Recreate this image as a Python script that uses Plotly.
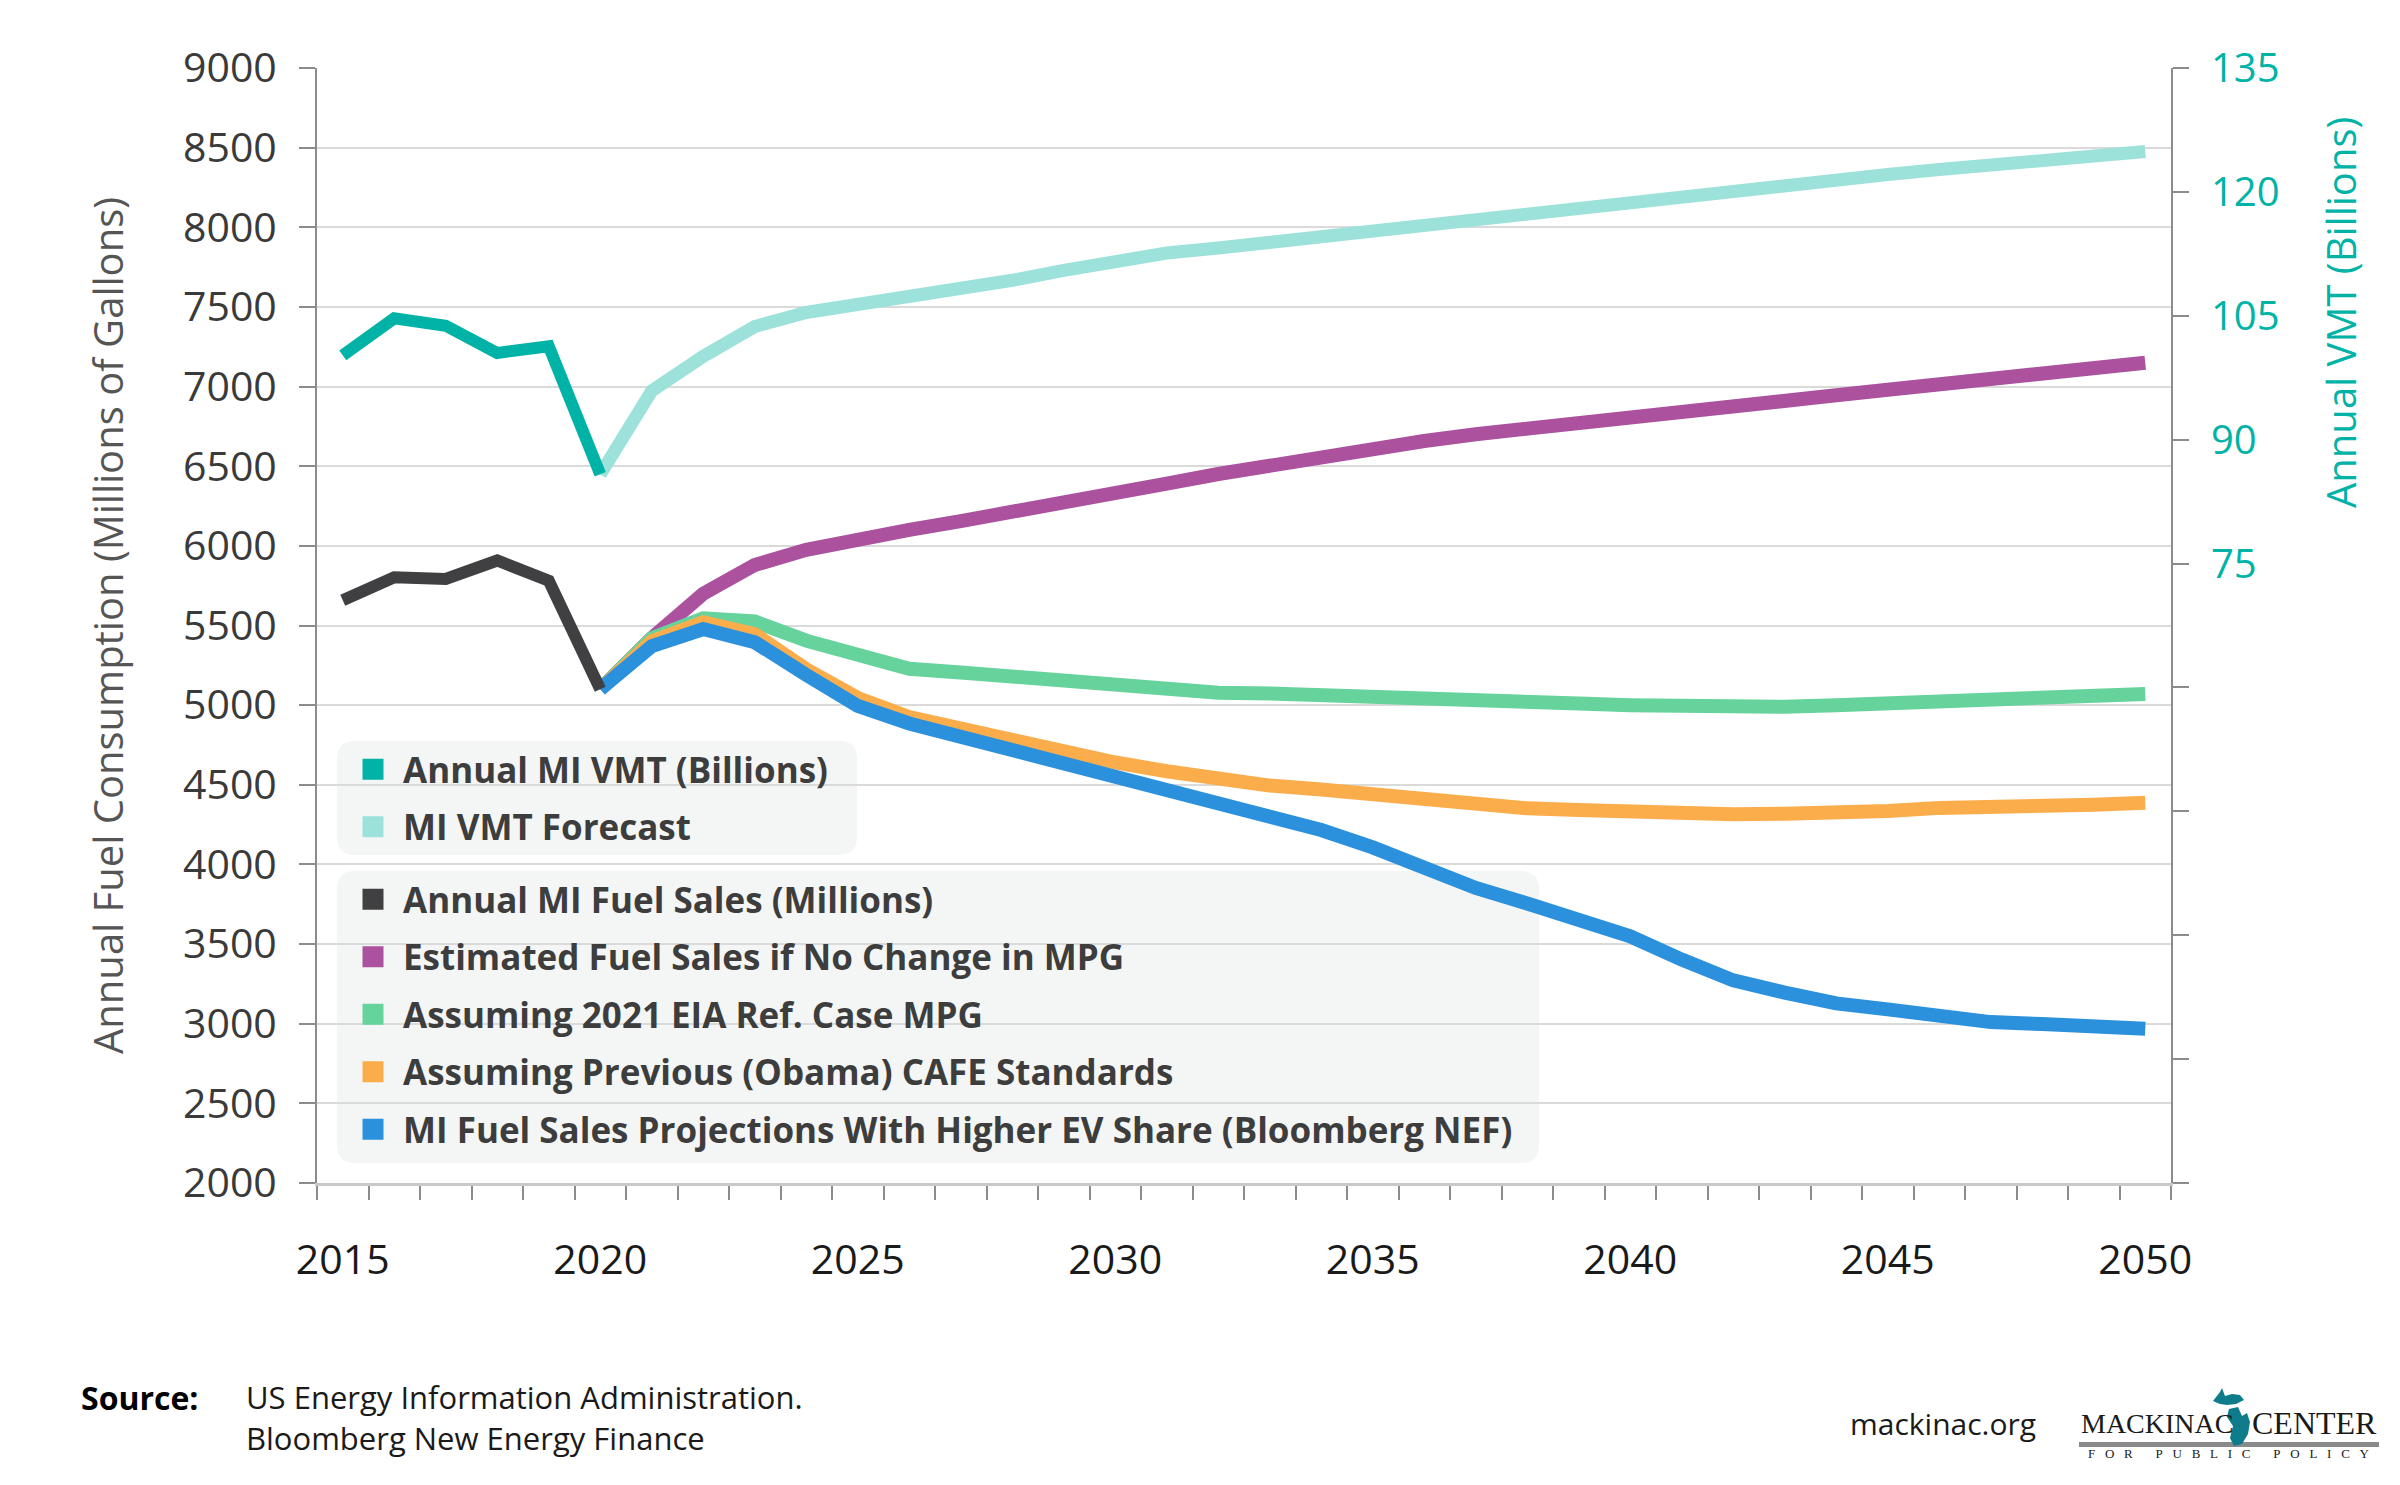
import plotly.graph_objects as go

# ---------------- data ----------------
years_hist = [2015, 2016, 2017, 2018, 2019, 2020]
vmt_hist = [100.2, 104.7, 103.8, 100.5, 101.3, 85.8]
fuel_hist = [5659, 5803, 5792, 5908, 5781, 5100]

years_proj = list(range(2020, 2051))
vmt_forecast = [85.8, 95.9, 100.1, 103.7, 105.4, 106.4, 107.3, 108.1, 109.3, 110.5,
                111.7, 112.6, 113.2, 113.9, 114.6, 115.3, 116.0, 116.8, 117.5, 118.2,
                118.9, 119.6, 120.3, 121.0, 121.6, 122.1, 122.7, 123.2, 123.8, 124.3, 124.9]
fuel_no_change = [5100, 5420, 5700, 5880, 5975, 6046, 6100, 6155, 6209, 6269,
                  6330, 6391, 6451, 6507, 6561, 6614, 6658, 6701, 6733, 6767,
                  6803, 6837, 6874, 6910, 6945, 6980, 7015, 7050, 7085, 7118, 7150]
fuel_eia = [5100, 5420, 5545, 5525, 5405, 5315, 5228, 5205, 5178, 5150,
            5115, 5090, 5078, 5073, 5066, 5053, 5041, 5034, 5022, 5010,
            5000, 4990, 4988, 4990, 5000, 5010, 5020, 5032, 5045, 5058, 5070]
fuel_cafe = [5100, 5400, 5520, 5445, 5225, 5045, 4925, 4850, 4775, 4705,
             4640, 4585, 4530, 4495, 4470, 4435, 4403, 4374, 4352, 4342,
             4330, 4315, 4315, 4318, 4322, 4335, 4355, 4357, 4372, 4375, 4387]
fuel_bnef = [5100, 5370, 5478, 5395, 5190, 4995, 4885, 4800, 4722, 4641,
             4556, 4468, 4378, 4309, 4216, 4107, 3978, 3852, 3755, 3646,
             3549, 3403, 3272, 3195, 3128, 3090, 3055, 3010, 2998, 2978, 2968]

x_labels = [2015, 2020, 2025, 2030, 2035, 2040, 2045, 2050]
y_left_ticks = list(range(2000, 9001, 500))
y_right_ticks = list(range(0, 136, 15))
y_right_text = ["" if v < 75 else str(v) for v in y_right_ticks]

names = {
    "vmt": "Annual MI VMT (Billions)",
    "vmtf": "MI VMT Forecast",
    "fuel": "Annual MI Fuel Sales (Millions)",
    "nochg": "Estimated Fuel Sales if No Change in MPG",
    "eia": "Assuming 2021 EIA Ref. Case MPG",
    "cafe": "Assuming Previous (Obama) CAFE Standards",
    "bnef": "MI Fuel Sales Projections With Higher EV Share (Bloomberg NEF)",
}
colors = {
    "vmt": "#00b3a6",
    "vmtf": "#9ce2da",
    "fuel": "#404042",
    "nochg": "#ab519e",
    "eia": "#66d39c",
    "cafe": "#fbad4c",
    "bnef": "#2c91dc",
}

# ---------------- geometry helpers (layout only) ----------------
W_PX, H_PX = 2400, 1485
L, R, T, B = 309, 2163, 60, 1175
PW, PH = R - L, B - T


def px(xp):
    return (xp - L) / PW


def py(yp):
    return (B - yp) / PH


fig = go.Figure()

# lines (draw order: light teal, purple, green, orange, blue, teal, black)
fig.add_trace(go.Scatter(x=years_proj, y=vmt_forecast, yaxis="y2", mode="lines",
                         line=dict(color=colors["vmtf"], width=13), showlegend=False,
                         name=names["vmtf"]))
for key, vals in [("nochg", fuel_no_change), ("eia", fuel_eia),
                  ("cafe", fuel_cafe), ("bnef", fuel_bnef)]:
    fig.add_trace(go.Scatter(x=years_proj, y=vals, mode="lines",
                             line=dict(color=colors[key], width=14),
                             showlegend=False, name=names[key]))
fig.add_trace(go.Scatter(x=years_hist, y=vmt_hist, yaxis="y2", mode="lines",
                         line=dict(color=colors["vmt"], width=12), showlegend=False,
                         name=names["vmt"]))
fig.add_trace(go.Scatter(x=years_hist, y=fuel_hist, mode="lines",
                         line=dict(color=colors["fuel"], width=12), showlegend=False,
                         name=names["fuel"]))

# legend entries (square swatches)
for key in ["vmt", "vmtf"]:
    fig.add_trace(go.Scatter(x=[None], y=[None], mode="markers", name=names[key],
                             marker=dict(symbol="square", size=16, color=colors[key],
                                         line=dict(width=5, color=colors[key])),
                             legend="legend", legendgroup=key, showlegend=True))
for key in ["fuel", "nochg", "eia", "cafe", "bnef"]:
    fig.add_trace(go.Scatter(x=[None], y=[None], mode="markers", name=names[key],
                             marker=dict(symbol="square", size=16, color=colors[key],
                                         line=dict(width=5, color=colors[key])),
                             legend="legend2", legendgroup=key, showlegend=True))


# rounded legend backgrounds
def rounded_rect(x0, y0, x1, y1, r):
    def P(a, b):
        return f"{px(a):.5f},{py(b):.5f}"
    path = (f"M {P(x0 + r, y0)} L {P(x1 - r, y0)} Q {P(x1, y0)} {P(x1, y0 + r)} "
            f"L {P(x1, y1 - r)} Q {P(x1, y1)} {P(x1 - r, y1)} "
            f"L {P(x0 + r, y1)} Q {P(x0, y1)} {P(x0, y1 - r)} "
            f"L {P(x0, y0 + r)} Q {P(x0, y0)} {P(x0 + r, y0)} Z")
    return dict(type="path", path=path, xref="paper", yref="paper",
                fillcolor="#f4f6f5", line=dict(width=0), layer="between")


shapes = [rounded_rect(329, 733, 849, 847, 18), rounded_rect(329, 863, 1531, 1155, 18)]

# logo underline bar and Michigan icon
shapes.append(dict(type="rect", xref="paper", yref="paper", x0=px(2071), x1=px(2371),
                   y0=py(1439), y1=py(1434), fillcolor="#8a8a8a", line=dict(width=0)))
up = [(2205, 1393), (2212, 1384), (2214, 1380), (2217, 1388), (2224, 1386), (2232, 1387),
      (2236, 1392), (2228, 1396), (2219, 1397), (2212, 1396)]
lp = [(2221, 1401), (2230, 1399), (2234, 1408), (2239, 1405), (2242, 1414), (2240, 1426),
      (2234, 1436), (2226, 1438), (2222, 1430), (2225, 1418), (2219, 1409)]
for poly in (up, lp):
    path = "M " + " L ".join(f"{px(a):.5f},{py(b):.5f}" for a, b in poly) + " Z"
    shapes.append(dict(type="path", path=path, xref="paper", yref="paper",
                       fillcolor="#0f7c8c", line=dict(width=0)))

axis_gray = "#8c8c8c"
grid_gray = "#dadada"
legend_font = dict(family="Open Sans", size=35, color="#3d3d3d", weight=700)

fig.update_layout(
    width=W_PX, height=H_PX,
    margin=dict(l=L, r=W_PX - R, t=T, b=H_PX - B),
    paper_bgcolor="white", plot_bgcolor="white",
    font=dict(family="Open Sans", color="#3a3a3a"),
    shapes=shapes,
    xaxis=dict(
        range=[2014.5, 2050.5], tickmode="array", tickvals=x_labels,
        ticktext=[str(v) for v in x_labels],
        ticks="outside", ticklen=39, tickcolor="rgba(0,0,0,0)", tickwidth=1,
        tickfont=dict(family="Open Sans", size=41, color="#1a1a1a"),
        showgrid=False, zeroline=False,
        showline=True, linecolor="#c9c9c9", linewidth=3,
        minor=dict(tick0=2014.5, dtick=1, ticks="outside", ticklen=14,
                   tickcolor=axis_gray, tickwidth=2, showgrid=False),
    ),
    xaxis2=dict(
        overlaying="x", anchor="y", side="bottom", range=[2014.5, 2050.5],
        tickmode="array", tickvals=[2014.5 + 5 * k for k in range(8)],
        ticks="outside", ticklen=36, tickcolor=axis_gray, tickwidth=2,
        showticklabels=False, showgrid=False, zeroline=False, showline=False,
    ),
    yaxis=dict(
        range=[2000, 9000], tickmode="array", tickvals=y_left_ticks,
        ticks="outside", ticklen=16, tickcolor=axis_gray, tickwidth=2,
        tickfont=dict(family="Open Sans", size=41, color="#3a3a3a"),
        showgrid=True, gridcolor=grid_gray, gridwidth=2, zeroline=False,
        showline=True, linecolor=axis_gray, linewidth=2,
        ticklabelstandoff=14,
        title=dict(text="Annual Fuel Consumption (Millions of Gallons)",
                   font=dict(family="Open Sans", size=40, color="#555555"), standoff=47),
    ),
    yaxis2=dict(
        overlaying="y", side="right", anchor="x", range=[0, 135],
        tickmode="array", tickvals=y_right_ticks, ticktext=y_right_text,
        ticks="outside", ticklen=16, tickcolor=axis_gray, tickwidth=2,
        tickfont=dict(family="Open Sans", size=40, color="#00b3a6"),
        showgrid=False, zeroline=False,
        showline=True, linecolor=axis_gray, linewidth=2,
        ticklabelstandoff=14,
    ),
    legend=dict(
        x=px(335), y=py(732), xanchor="left", yanchor="top",
        bgcolor="rgba(0,0,0,0)", borderwidth=0, traceorder="grouped",
        tracegroupgap=9, itemsizing="trace", itemwidth=50,
        font=legend_font,
    ),
    legend2=dict(
        x=px(335), y=py(862), xanchor="left", yanchor="top",
        bgcolor="rgba(0,0,0,0)", borderwidth=0, traceorder="grouped",
        tracegroupgap=9, itemsizing="trace", itemwidth=50,
        font=legend_font,
    ),
)

spaced = "\u00a0\u00a0\u00a0".join("FOR\u00a0PUBLIC\u00a0POLICY")

annotations = [
    dict(text="Annual VMT (Billions)", textangle=-90, x=px(2332), y=py(305),
         xref="paper", yref="paper", showarrow=False, xanchor="center", yanchor="middle",
         font=dict(family="Open Sans", size=40, color="#00b3a6")),
    dict(text="<b>Source:</b>", x=px(71), y=py(1389), xref="paper", yref="paper",
         showarrow=False, xanchor="left", yanchor="middle",
         font=dict(family="Open Sans", size=32, color="#000000")),
    dict(text="US Energy Information Administration.", x=px(236), y=py(1389),
         xref="paper", yref="paper", showarrow=False, xanchor="left", yanchor="middle",
         font=dict(family="Open Sans", size=31, color="#1a1a1a")),
    dict(text="Bloomberg New Energy Finance", x=px(236), y=py(1430),
         xref="paper", yref="paper", showarrow=False, xanchor="left", yanchor="middle",
         font=dict(family="Open Sans", size=31, color="#1a1a1a")),
    dict(text="mackinac.org", x=px(2030), y=py(1415), xref="paper", yref="paper",
         showarrow=False, xanchor="right", yanchor="middle",
         font=dict(family="Open Sans", size=30, color="#1a1a1a")),
    dict(text="MACKINAC", x=px(2071), y=py(1415), xref="paper", yref="paper",
         showarrow=False, xanchor="left", yanchor="middle",
         font=dict(family="Liberation Serif", size=28, color="#1a1a1a")),
    dict(text="CENTER", x=px(2371), y=py(1415), xref="paper", yref="paper",
         showarrow=False, xanchor="right", yanchor="middle",
         font=dict(family="Liberation Serif", size=32, color="#1a1a1a")),
    dict(text=spaced, x=px(2221), y=py(1445),
         xref="paper", yref="paper", showarrow=False, xanchor="center", yanchor="middle",
         font=dict(family="Liberation Serif", size=13, color="#1a1a1a")),
]
fig.update_layout(annotations=annotations)

fig.write_html("out.html")
